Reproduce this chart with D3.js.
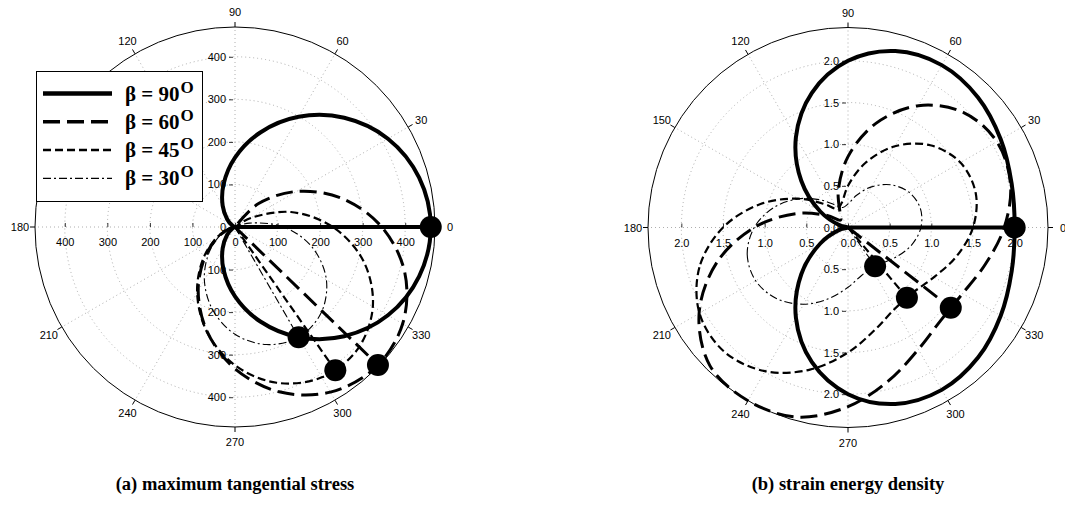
<!DOCTYPE html>
<html>
<head>
<meta charset="utf-8">
<script src="https://cdn.jsdelivr.net/npm/d3@7"></script>
<style>
  body { margin: 0; background: #fff; }
  svg { display: block; }
  .lbl { font-family: "Liberation Sans", Arial, sans-serif; font-size: 11px; fill: #000; }
  .caption { font-family: "Liberation Serif", "Times New Roman", serif; font-weight: bold; font-size: 18.5px; }
  .legend-text { font-family: "Liberation Serif", "Times New Roman", serif; font-weight: bold; font-size: 21px; }
</style>
</head>
<body>
<svg id="chart" width="1065" height="506"></svg>
<script>
"use strict";

// ---- data (angles in degrees, ccw from 0) ----

// (a) maximum tangential stress
var mtsAng90 = [-180,-165,-150,-135,-120,-105,-90,-75,-60,-45,-30,-15,0,15,30,45,60,75,90,105,120,135,150,165,180];
var mtsR90   = [0,1,8,26,58,104,163,230,299,363,415,448,460,448,415,363,299,230,163,104,58,26,8,1,0];
var mtsAng60 = [-180,-165,-150,-135,-120,-105,-90,-75,-60,-45,-30,-15,0,15,30,45,60];
var mtsR60   = [0,11,45,100,173,254,333,401,448,467,455,413,345,260,167,77,0];
var mtsAng45 = [-180,-165,-150,-135,-120,-105,-90,-75,-60,-45,-30,-15,0,15,30,37];
var mtsR45   = [0,12,49,106,178,255,325,379,408,407,374,313,230,136,41,0];
var mtsAng30 = [-180,-165,-150,-135,-120,-105,-90,-75,-60,-45,-30,-15,0,15,22];
var mtsR30   = [0,10,41,87,144,202,252,286,299,286,248,189,115,35,0];
// fracture direction markers [angle, radius]
var mtsMarkers = [[0,460],[-44,467],[-55,411],[-60,299]];

// (b) strain energy density
var sedAng  = [-180,-165,-150,-135,-120,-105,-90,-75,-60,-45,-30,-15,0,15,30,45,60,75,90,105,120,135,150,165];
var sedR90  = [0,0.101,0.384,0.793,1.25,1.674,2.0,2.192,2.25,2.207,2.116,2.033,2.0,2.033,2.116,2.207,2.25,2.192,2.0,1.674,1.25,0.793,0.384,0.101];
var sedR60  = [1.125,1.631,2.063,2.344,2.438,2.355,2.150,1.900,1.688,1.575,1.587,1.706,1.875,2.019,2.062,1.955,1.688,1.294,0.850,0.451,0.188,0.126,0.288,0.645];
var sedR45  = [1.5,1.846,2.058,2.104,1.991,1.766,1.5,1.266,1.125,1.104,1.192,1.346,1.5,1.587,1.558,1.396,1.125,0.801,0.5,0.301,0.259,0.396,0.692,1.087];
var sedR30  = [1.125,1.252,1.279,1.208,1.063,0.883,0.717,0.602,0.563,0.598,0.688,0.794,0.875,0.898,0.846,0.725,0.563,0.400,0.283,0.248,0.313,0.469,0.688,0.923];
var sedMarkers = [[0,2.0],[-38,1.565],[-50,1.10],[-55,0.567]];

var betas = ['90', '60', '45', '30'];
var angleTicks = [0,30,60,90,120,150,180,210,240,270,300,330];
var mtsTicks = [-400,-300,-200,-100,0,100,200,300,400];
var sedTicks = [-2,-1.5,-1,-0.5,0,0.5,1,1.5,2];

// ---- styles ----
var R = 200;
var lineStyles = [
  {width: 4,   dash: null},
  {width: 3,   dash: '17,7'},
  {width: 2.2, dash: '8,4'},
  {width: 1.1, dash: '8,3,2,3'}
];

var svg = d3.select('#chart');
svg.append('rect').attr('width', 1065).attr('height', 506).attr('fill', '#fff');

function toRad(deg) { return deg * Math.PI / 180; }

function drawPolar(opt) {
  var g = svg.append('g').attr('transform', 'translate(' + opt.cx + ',' + opt.cy + ')');
  var r = d3.scaleLinear().domain([0, opt.max]).range([0, R]).clamp(true);

  // dotted grid
  g.selectAll('.ring').data(opt.rings).enter().append('circle')
    .attr('r', d => r(d))
    .attr('fill', 'none').attr('stroke', '#999')
    .attr('stroke-width', 0.8).attr('stroke-dasharray', '1,3');
  g.selectAll('.spoke').data(angleTicks).enter().append('line')
    .attr('x1', 0).attr('y1', 0)
    .attr('x2', d => R * Math.cos(toRad(d)))
    .attr('y2', d => -R * Math.sin(toRad(d)))
    .attr('stroke', '#999').attr('stroke-width', 0.8).attr('stroke-dasharray', '1,3');

  // outer circle, angle ticks and labels
  g.append('circle').attr('r', R).attr('fill', 'none').attr('stroke', '#000').attr('stroke-width', 1);
  g.selectAll('.atick').data(angleTicks).enter().append('line')
    .attr('x1', d => R * Math.cos(toRad(d)))
    .attr('y1', d => -R * Math.sin(toRad(d)))
    .attr('x2', d => (R + 5) * Math.cos(toRad(d)))
    .attr('y2', d => -(R + 5) * Math.sin(toRad(d)))
    .attr('stroke', '#000').attr('stroke-width', 1);
  g.selectAll('.alabel').data(angleTicks).enter().append('text')
    .attr('class', 'lbl')
    .attr('x', d => (R + 15) * Math.cos(toRad(d)))
    .attr('y', d => -(R + 15) * Math.sin(toRad(d)))
    .attr('text-anchor', 'middle').attr('dominant-baseline', 'central')
    .text(d => d);

  // radial axes (horizontal and vertical)
  var sx = d3.scaleLinear().domain([-opt.max, opt.max]).range([-R, R]);
  var sy = d3.scaleLinear().domain([-opt.max, opt.max]).range([R, -R]);
  var fmt = d => opt.fmt(Math.abs(d));
  var ax = g.append('g')
    .call(d3.axisBottom(sx).tickValues(opt.ticks).tickFormat(fmt).tickSizeInner(-4).tickSizeOuter(0).tickPadding(11.5));
  var ay = g.append('g').attr('transform', 'translate(-2,0)')
    .call(d3.axisLeft(sy).tickValues(opt.ticks).tickFormat(fmt).tickSizeInner(4).tickSizeOuter(0).tickPadding(3));
  [ax, ay].forEach(function (a) {
    a.select('.domain').remove();
    a.attr('font-family', null).attr('font-size', null);
    a.selectAll('text').attr('class', 'lbl').attr('fill', '#000');
    a.selectAll('line').attr('stroke', '#000').attr('stroke-width', 0.8);
  });

  // curves
  var line = d3.lineRadial()
    .angle(d => toRad(90 - d[0]))
    .radius(d => r(d[1]));
  opt.series.forEach(function (s, i) {
    var pts = s.ang.map((a, k) => [a, s.r[k]]);
    line.curve(s.closed ? d3.curveCatmullRomClosed.alpha(0.5) : d3.curveCatmullRom.alpha(0.5));
    g.append('path')
      .attr('d', line(pts))
      .attr('fill', 'none').attr('stroke', '#000')
      .attr('stroke-width', lineStyles[i].width)
      .attr('stroke-dasharray', lineStyles[i].dash)
      .attr('stroke-linejoin', 'round');
  });

  // direction lines and markers
  opt.markers.forEach(function (m, i) {
    var x = r(m[1]) * Math.cos(toRad(m[0]));
    var y = -r(m[1]) * Math.sin(toRad(m[0]));
    g.append('line')
      .attr('x1', 0).attr('y1', 0).attr('x2', x).attr('y2', y)
      .attr('stroke', '#000')
      .attr('stroke-width', lineStyles[i].width)
      .attr('stroke-dasharray', lineStyles[i].dash);
  });
  opt.markers.forEach(function (m) {
    g.append('circle')
      .attr('cx', r(m[1]) * Math.cos(toRad(m[0])))
      .attr('cy', -r(m[1]) * Math.sin(toRad(m[0])))
      .attr('r', 11).attr('fill', '#000');
  });

  svg.append('text').attr('class', 'caption')
    .attr('x', opt.cx).attr('y', 490).attr('text-anchor', 'middle')
    .text(opt.caption);
}

drawPolar({
  cx: 235, cy: 227, max: 470,
  rings: [100, 200, 300, 400],
  ticks: mtsTicks, fmt: d3.format('d'),
  series: [
    {ang: mtsAng90, r: mtsR90, closed: false},
    {ang: mtsAng60, r: mtsR60, closed: false},
    {ang: mtsAng45, r: mtsR45, closed: false},
    {ang: mtsAng30, r: mtsR30, closed: false}
  ],
  markers: mtsMarkers,
  caption: '(a) maximum tangential stress'
});

drawPolar({
  cx: 848, cy: 227.5, max: 2.4,
  rings: [0.5, 1.0, 1.5, 2.0],
  ticks: sedTicks, fmt: d3.format('.1f'),
  series: [
    {ang: sedAng, r: sedR90, closed: true},
    {ang: sedAng, r: sedR60, closed: true},
    {ang: sedAng, r: sedR45, closed: true},
    {ang: sedAng, r: sedR30, closed: true}
  ],
  markers: sedMarkers,
  caption: '(b) strain energy density'
});

// legend (on the left chart)
var leg = svg.append('g');
leg.append('rect').attr('x', 36.5).attr('y', 71.5).attr('width', 166).attr('height', 130)
  .attr('fill', '#fff').attr('stroke', '#000').attr('stroke-width', 1);
var legWidths = [4.5, 3.5, 2.5, 1.2];
betas.forEach(function (b, i) {
  var y = 93.5 + i * 28.3;
  leg.append('line')
    .attr('x1', 43).attr('x2', 112).attr('y1', y).attr('y2', y)
    .attr('stroke', '#000').attr('stroke-width', legWidths[i])
    .attr('stroke-dasharray', lineStyles[i].dash);
  var t = leg.append('text').attr('class', 'legend-text').attr('x', 125).attr('y', y + 7);
  t.append('tspan').text('β = ' + b);
  t.append('tspan').attr('font-size', 17).attr('dx', 1).attr('dy', -8).text('O');
});
</script>
</body>
</html>
